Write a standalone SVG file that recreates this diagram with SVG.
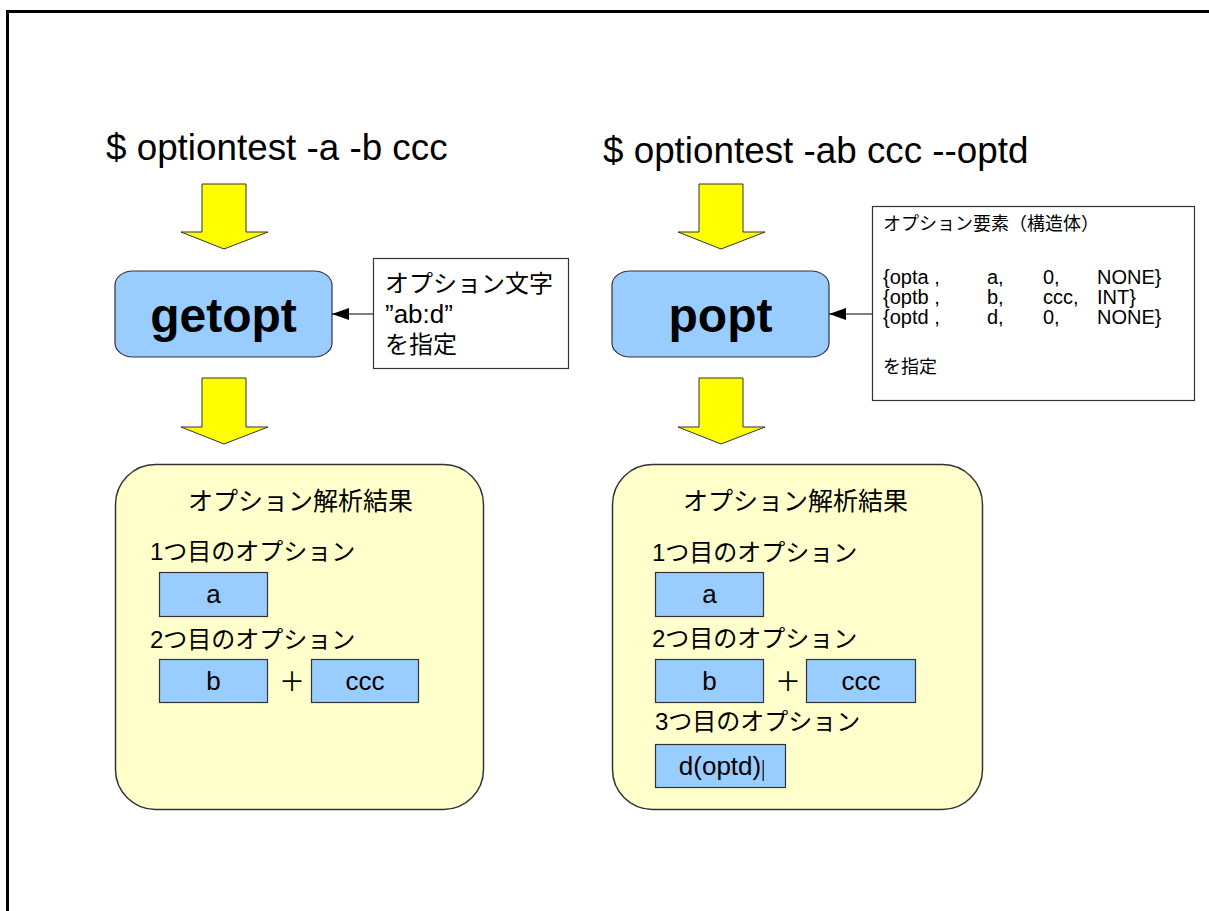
<svg xmlns="http://www.w3.org/2000/svg" width="1209" height="911" viewBox="0 0 1209 911">
  <style>
    .t { font-family: "Liberation Sans", Arial, "Noto Sans CJK JP", sans-serif; fill: #000; }
    .jp { font-family: "Liberation Sans", Arial, "Noto Sans CJK JP", sans-serif; fill: #000; }
    .title { font-size: 36.8px; }
    .lib { font-size: 48px; font-weight: bold; text-anchor: middle; }
    .lbl { font-size: 26px; text-anchor: middle; }
    .jp24 { font-size: 24px; }
    .jp25 { font-size: 25px; }
    .jp18 { font-size: 18px; }
    .row { font-size: 20px; }
    .func { fill: #99ccff; stroke: #333; stroke-width: 1.2; }
    .note { fill: #fff; stroke: #333; stroke-width: 1.2; }
    .result { fill: #ffffcc; stroke: #333; stroke-width: 1.5; }
    .val { fill: #99ccff; stroke: #333; stroke-width: 1.2; }
    .flow { fill: #ffff00; stroke: #333; stroke-width: 1; }
    .link { stroke: #000; stroke-width: 1.2; fill: none; }
  </style>
  <defs>
    <marker id="head" markerUnits="userSpaceOnUse" markerWidth="17" markerHeight="12" refX="17" refY="6" orient="auto">
      <path d="M0,0 L17,6 L0,12 Z" fill="#000"/>
    </marker>
  </defs>

  <rect width="1209" height="911" fill="#fff"/>
  <!-- page frame -->
  <path d="M7.5,911 V11.5 H1209" fill="none" stroke="#000" stroke-width="3"/>

  <!-- command lines -->
  <g id="cmd-getopt">
    <text class="t title" x="106" y="160">$ optiontest -a -b ccc</text>
  </g>
  <g id="cmd-popt">
    <text class="t title" x="603" y="163">$ optiontest -ab ccc --optd</text>
  </g>

  <!-- library nodes -->
  <g id="getopt">
    <rect class="func" x="115" y="271" width="217" height="86" rx="18" ry="14"/>
    <text class="t lib" x="223.5" y="332">getopt</text>
  </g>
  <g id="popt">
    <rect class="func" x="612" y="271" width="217" height="86" rx="18" ry="14"/>
    <text class="t lib" x="720.5" y="332">popt</text>
  </g>

  <!-- option specification notes -->
  <g id="getopt-spec">
    <rect class="note" x="373.5" y="258.5" width="195" height="110"/>
    <text class="jp jp24" x="385" y="292">オプション文字</text>
    <text class="t" x="385" y="323" font-size="26">”ab:d”</text>
    <text class="jp jp24" x="385" y="353">を指定</text>
  </g>
  <g id="popt-spec">
    <rect class="note" x="872.5" y="206.5" width="322" height="194"/>
    <text class="jp jp18" x="883" y="230">オプション要素（構造体）</text>
    <g class="t row">
      <text x="883" y="284">{opta ,</text>
      <text x="987" y="284">a,</text>
      <text x="1043" y="284">0,</text>
      <text x="1097" y="284">NONE}</text>
      <text x="883" y="304">{optb ,</text>
      <text x="987" y="304">b,</text>
      <text x="1043" y="304">ccc,</text>
      <text x="1097" y="304">INT}</text>
      <text x="883" y="324">{optd ,</text>
      <text x="987" y="324">d,</text>
      <text x="1043" y="324">0,</text>
      <text x="1097" y="324">NONE}</text>
    </g>
    <text class="jp jp18" x="883" y="373">を指定</text>
  </g>

  <!-- parse results -->
  <g id="getopt-result">
    <rect class="result" x="115.5" y="464.5" width="368" height="345" rx="40" ry="40"/>
    <text class="jp jp25" x="188" y="510">オプション解析結果</text>
    <text class="jp jp24" x="150" y="560">1つ目のオプション</text>
    <rect class="val" x="159.5" y="572.5" width="108" height="44"/>
    <text class="t lbl" x="213.5" y="603">a</text>
    <text class="jp jp24" x="150" y="648">2つ目のオプション</text>
    <rect class="val" x="159.5" y="659.5" width="108" height="43"/>
    <text class="t lbl" x="213.5" y="690">b</text>
    <text class="jp lbl" x="292" y="691">＋</text>
    <rect class="val" x="311.5" y="659.5" width="107" height="43"/>
    <text class="t lbl" x="365" y="690">ccc</text>
  </g>
  <g id="popt-result">
    <rect class="result" x="612.5" y="464.5" width="370" height="345" rx="40" ry="40"/>
    <text class="jp jp25" x="683" y="510">オプション解析結果</text>
    <text class="jp jp24" x="652" y="561">1つ目のオプション</text>
    <rect class="val" x="655.5" y="572.5" width="108" height="44"/>
    <text class="t lbl" x="709.5" y="603">a</text>
    <text class="jp jp24" x="652" y="647">2つ目のオプション</text>
    <rect class="val" x="655.5" y="659.5" width="108" height="43"/>
    <text class="t lbl" x="709.5" y="690">b</text>
    <text class="jp lbl" x="788" y="691">＋</text>
    <rect class="val" x="806.5" y="659.5" width="109" height="43"/>
    <text class="t lbl" x="861" y="690">ccc</text>
    <text class="jp jp24" x="655" y="730">3つ目のオプション</text>
    <rect class="val" x="655.5" y="744.5" width="130" height="43"/>
    <text class="t lbl" x="720" y="775">d(optd)</text>
    <rect x="762.5" y="760" width="1.5" height="21" fill="#333"/>
  </g>

  <!-- connectors -->
  <g id="connectors">
    <path class="flow" d="M202,184 H246 V232 H268 L224,249 L181,232 H202 Z"/>
    <path class="flow" d="M202,378 H246 V427 H268 L224,444 L181,427 H202 Z"/>
    <path class="flow" d="M699,184 H743 V232 H765 L721,249 L678,232 H699 Z"/>
    <path class="flow" d="M699,378 H743 V427 H765 L721,444 L678,427 H699 Z"/>
    <line class="link" x1="373" y1="314" x2="332" y2="314" marker-end="url(#head)"/>
    <line class="link" x1="872" y1="314" x2="829" y2="314" marker-end="url(#head)"/>
  </g>
</svg>
